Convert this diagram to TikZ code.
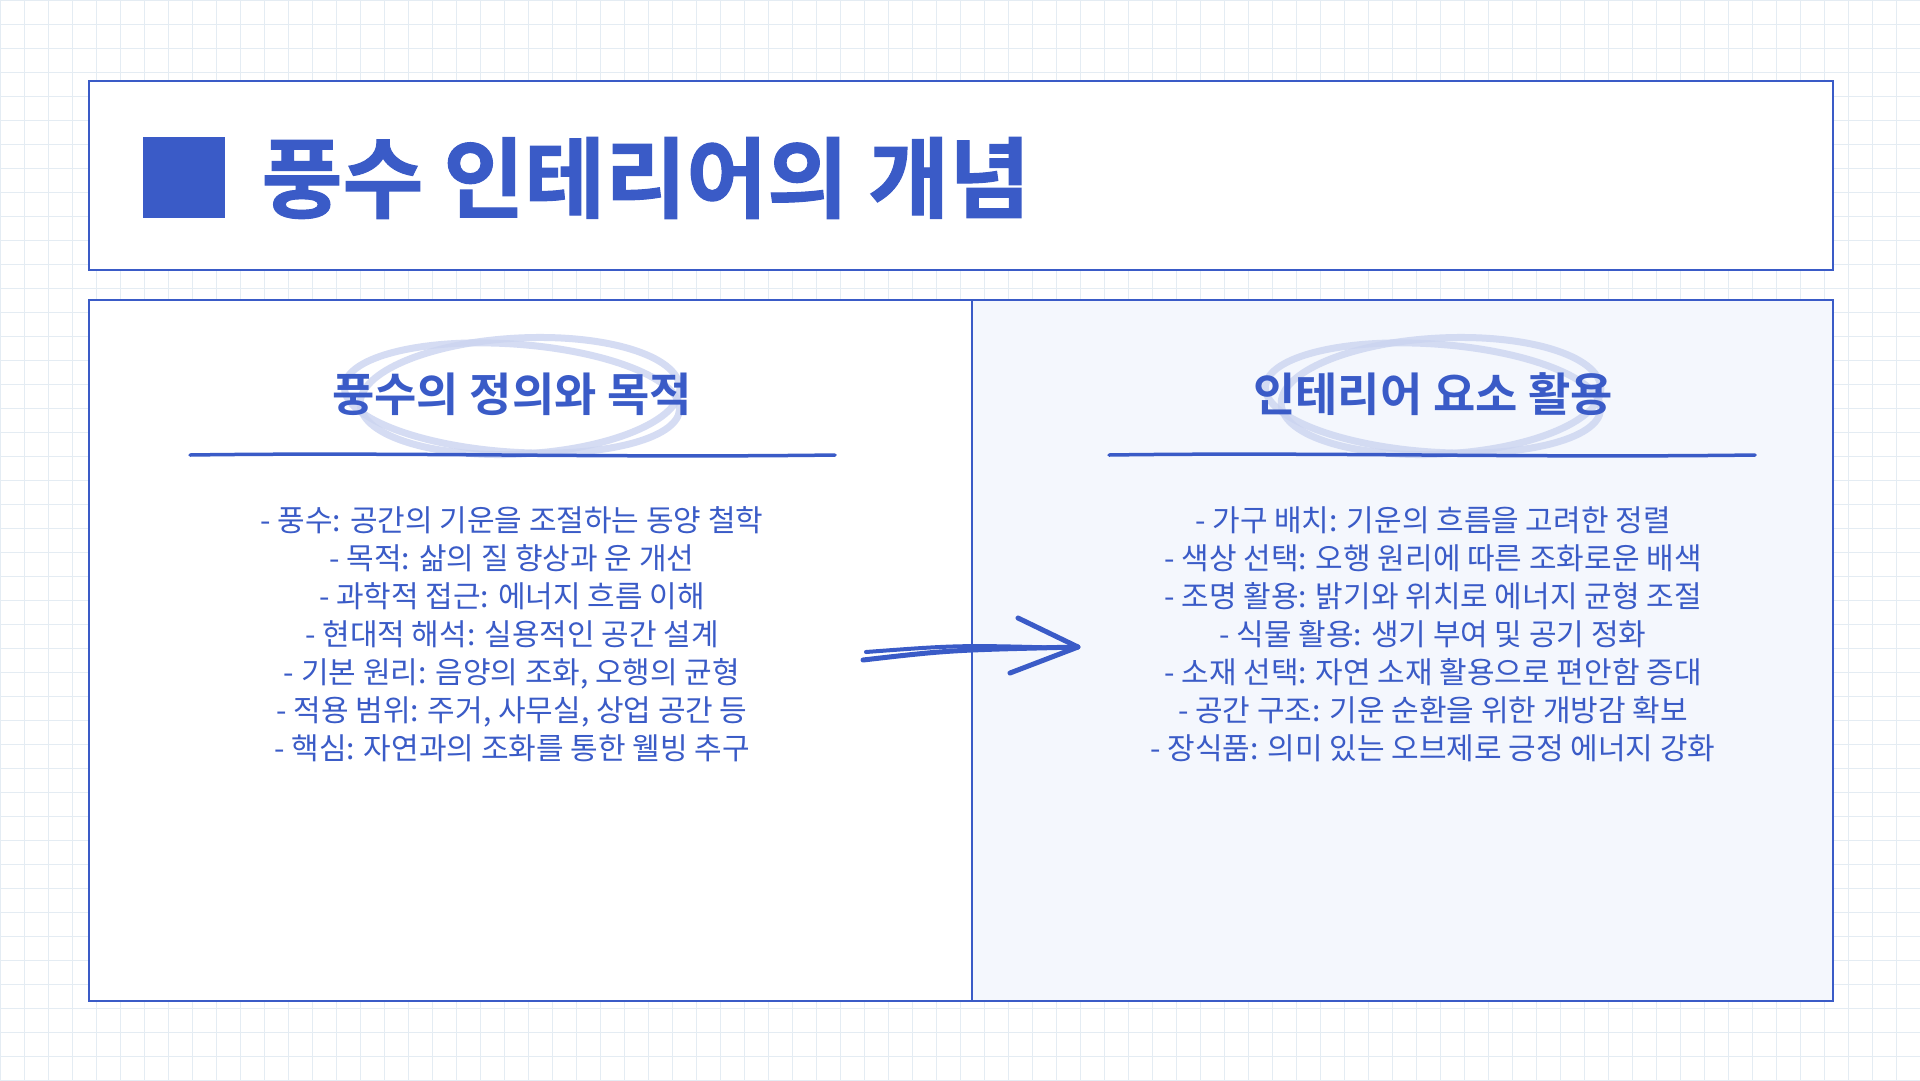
\documentclass[tikz,border=0pt]{standalone}
\usepackage{fontspec}
\newfontfamily\kr{Noto Sans CJK KR}
\newfontfamily\krb{Noto Sans CJK KR Bold}
\newfontfamily\krbb[FakeBold=1.2]{Noto Sans CJK KR Bold}
\definecolor{mainblue}{HTML}{3A5BC7}
\definecolor{gridc}{HTML}{E4ECF3}
\definecolor{panel}{HTML}{F4F7FD}
\definecolor{scrib}{HTML}{CBD4F0}
\tikzset{
  listtxt/.style={font=\kr\fontsize{30}{38}\selectfont, text=mainblue, align=center},
  headtxt/.style={font=\krb\fontsize{46}{50}\selectfont, text=mainblue},
  frame/.style={draw=mainblue, line width=1.8pt},
  scribble/.style={draw=scrib, line width=7pt, opacity=0.8},
  uline/.style={draw=mainblue, line width=3.5pt, line cap=round}
}
\begin{document}
\begin{tikzpicture}[x=1pt,y=-1pt]
\useasboundingbox (0,0) rectangle (1920,1080);
\fill[white] (0,0) rectangle (1920,1080);
\draw[gridc, line width=0.8pt] foreach \i in {0,24,...,1080} {(0,\i) -- (1920,\i)};
\draw[gridc, line width=0.8pt] foreach \i in {0,24,...,1920} {(\i,0) -- (\i,1080)};
% title
\node[frame, fill=white, minimum width=1744pt, minimum height=189pt, anchor=north west] (tbox) at (88,80) {};
\fill[mainblue] (143,137) rectangle (225,218);
\node[font=\krbb\fontsize{88}{90}\selectfont, text=mainblue, anchor=west] (title) at (258,178) {풍수 인테리어의 개념};
% panels
\node[frame, fill=white, minimum width=883pt, minimum height=701pt, anchor=north west] (lp) at (88,299) {};
\node[frame, fill=panel, minimum width=861pt, minimum height=701pt, anchor=north west] (rp) at (971,299) {};
% scribbles
\foreach \cx in {512,1433}{
  \draw[scribble] (\cx,398) ellipse [x radius=168pt, y radius=54pt, rotate=-4];
  \draw[scribble] (\cx+8,396) ellipse [x radius=160pt, y radius=58pt, rotate=3];
}
\node[headtxt] (h1) at (512,394) {풍수의 정의와 목적};
\node[headtxt] (h2) at (1433,394) {인테리어 요소 활용};
\draw[uline] (190,455) .. controls (400,452) and (600,458) .. (835,455);
\draw[uline] (1109,455) .. controls (1320,452) and (1520,458) .. (1755,455);
\node[listtxt, anchor=north] (l1) at (512,503) {- 풍수: 공간의 기운을 조절하는 동양 철학\\- 목적: 삶의 질 향상과 운 개선\\- 과학적 접근: 에너지 흐름 이해\\- 현대적 해석: 실용적인 공간 설계\\- 기본 원리: 음양의 조화, 오행의 균형\\- 적용 범위: 주거, 사무실, 상업 공간 등\\- 핵심: 자연과의 조화를 통한 웰빙 추구};
\node[listtxt, anchor=north] (l2) at (1433,503) {- 가구 배치: 기운의 흐름을 고려한 정렬\\- 색상 선택: 오행 원리에 따른 조화로운 배색\\- 조명 활용: 밝기와 위치로 에너지 균형 조절\\- 식물 활용: 생기 부여 및 공기 정화\\- 소재 선택: 자연 소재 활용으로 편안함 증대\\- 공간 구조: 기운 순환을 위한 개방감 확보\\- 장식품: 의미 있는 오브제로 긍정 에너지 강화};
% arrow
\coordinate (a1) at (863,660);
\coordinate (a2) at (1078,647);
\draw[mainblue, line width=5pt, line cap=round] (a1) .. controls (950,650) .. (a2);
\draw[mainblue, line width=4pt, line cap=round] (866,652) .. controls (960,645) .. (1070,648);
\draw[mainblue, line width=5pt, line cap=round, line join=round] (1018,618) -- (a2) -- (1010,673);
\end{tikzpicture}
\end{document}
